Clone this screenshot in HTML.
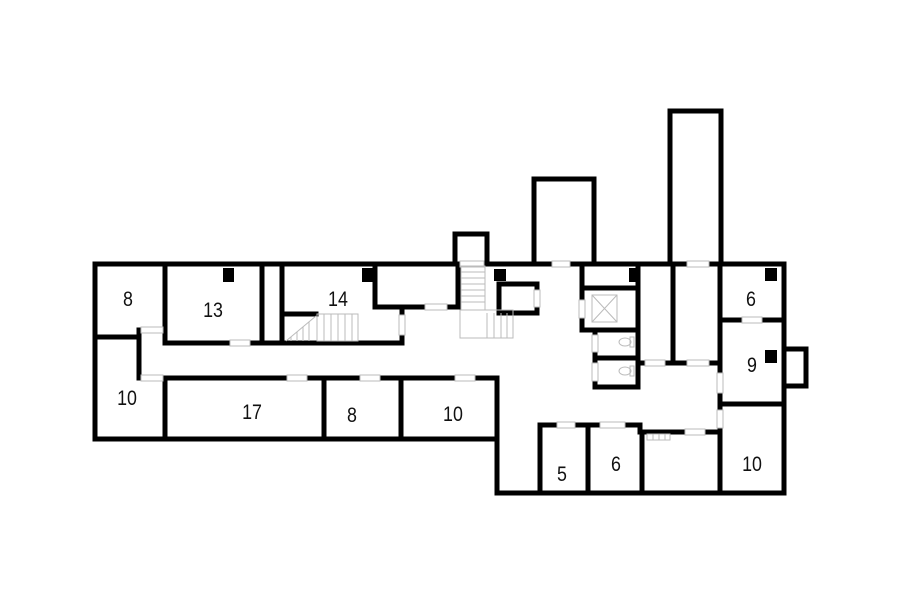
<!DOCTYPE html>
<html><head><meta charset="utf-8"><style>html,body{margin:0;padding:0;background:#fff}svg{display:block}text{font-family:"Liberation Sans",sans-serif;font-size:21px;fill:#111;text-anchor:middle}</style></head><body>
<svg width="900" height="604" viewBox="0 0 900 604" xmlns="http://www.w3.org/2000/svg">
<g stroke="#000" stroke-width="5" fill="none" stroke-linecap="square">
<polyline points="95,264 458,264"/>
<polyline points="487,264 784,264 784,493 497,493 497,439 95,439 95,264"/>
<line x1="497" y1="378" x2="497" y2="439"/>
<polyline points="455,264 455,234 487,234 487,264"/>
<polyline points="534,264 534,179 594,179 594,264"/>
<polyline points="670,264 670,111 721,111 721,264"/>
<polyline points="786,349 806,349 806,386 786,386"/>
<line x1="165" y1="264" x2="165" y2="343"/>
<line x1="95" y1="337" x2="139" y2="337"/>
<line x1="139" y1="330" x2="139" y2="378"/>
<line x1="165" y1="343" x2="402" y2="343"/>
<line x1="262" y1="264" x2="262" y2="343"/>
<line x1="282" y1="264" x2="282" y2="343"/>
<line x1="282" y1="314" x2="316" y2="314"/>
<polyline points="375,264 375,307 458,307 458,264"/>
<line x1="402" y1="307" x2="402" y2="343"/>
<line x1="165" y1="378" x2="497" y2="378"/>
<line x1="165" y1="378" x2="165" y2="439"/>
<line x1="324" y1="378" x2="324" y2="439"/>
<line x1="401" y1="378" x2="401" y2="439"/>
<line x1="458" y1="264" x2="458" y2="306"/>
<polyline points="499,284 537,284 537,313 499,313 499,284"/>
<polyline points="582,264 582,330 638,330"/>
<line x1="582" y1="288" x2="638" y2="288"/>
<line x1="638" y1="264" x2="638" y2="387"/>
<line x1="595" y1="330" x2="595" y2="387"/>
<line x1="595" y1="358" x2="638" y2="358"/>
<line x1="595" y1="387" x2="638" y2="387"/>
<line x1="673" y1="264" x2="673" y2="363"/>
<line x1="638" y1="363" x2="720" y2="363"/>
<line x1="720" y1="264" x2="720" y2="493"/>
<line x1="720" y1="320" x2="784" y2="320"/>
<line x1="720" y1="404" x2="784" y2="404"/>
<polyline points="540,493 540,425 640,425"/>
<line x1="588" y1="425" x2="588" y2="493"/>
<polyline points="642,493 642,432 720,432"/>
<line x1="640" y1="425" x2="640" y2="432"/>
</g>
<g fill="#000">
<rect x="223" y="268" width="11" height="14"/>
<rect x="362" y="268" width="12" height="14"/>
<rect x="494" y="269" width="12" height="12"/>
<rect x="629" y="268" width="11" height="14"/>
<rect x="765" y="268" width="12" height="13"/>
<rect x="765" y="350" width="12" height="13"/>
</g>
<g fill="#fff" stroke="#bbb" stroke-width="1">
<rect x="141" y="327" width="22" height="6"/>
<rect x="141" y="375" width="22" height="6"/>
<rect x="230" y="340" width="20" height="6"/>
<rect x="425" y="304" width="22" height="6"/>
<rect x="399" y="315" width="6" height="20"/>
<rect x="287" y="375" width="20" height="6"/>
<rect x="360" y="375" width="20" height="6"/>
<rect x="455" y="375" width="20" height="6"/>
<rect x="460" y="261" width="24" height="6"/>
<rect x="552" y="261" width="18" height="6"/>
<rect x="534" y="290" width="6" height="17"/>
<rect x="579" y="300" width="6" height="18"/>
<rect x="592" y="335" width="6" height="17"/>
<rect x="592" y="363" width="6" height="18"/>
<rect x="687" y="261" width="22" height="6"/>
<rect x="645" y="360" width="20" height="6"/>
<rect x="687" y="360" width="22" height="6"/>
<rect x="717" y="373" width="6" height="20"/>
<rect x="717" y="410" width="6" height="18"/>
<rect x="742" y="317" width="20" height="6"/>
<rect x="557" y="422" width="18" height="6"/>
<rect x="600" y="422" width="25" height="6"/>
<rect x="685" y="429" width="20" height="6"/>
</g>
<g stroke="#bbb" stroke-width="1" fill="none">
<rect x="317" y="314" width="41" height="27"/>
<path d="M324 314v27M331 314v27M338 314v27M345 314v27M352 314v27"/>
<line x1="286" y1="341" x2="316" y2="316"/>
<path d="M291 337v4M297 332v9M303 327v14M309 322v19"/>
<rect x="461" y="266" width="24" height="44"/>
<path d="M461 272h24M461 278h24M461 284h24M461 290h24M461 296h24M461 302h24"/>
<rect x="460" y="310" width="53" height="28"/>
<path d="M487 313v25M494 313v25M501 313v25M507 313v25"/>
<rect x="592" y="295" width="25" height="27"/>
<path d="M592 295l25 27M617 295l-25 27"/>
<ellipse cx="625" cy="342" rx="6" ry="4"/><rect x="630" y="337" width="4" height="10"/>
<ellipse cx="625" cy="371" rx="6" ry="4"/><rect x="630" y="366" width="4" height="10"/>
<path d="M647 434h23v6h-23zM653 434v6M659 434v6M665 434v6"/>
</g>
<g transform="scale(0.85,1)">
<text x="150.6" y="306">8</text>
<text x="250.6" y="317">13</text>
<text x="397.6" y="306">14</text>
<text x="883.5" y="306">6</text>
<text x="884.7" y="372">9</text>
<text x="149.4" y="405">10</text>
<text x="296.5" y="419">17</text>
<text x="414.1" y="422">8</text>
<text x="532.9" y="421">10</text>
<text x="661.2" y="481">5</text>
<text x="724.7" y="471">6</text>
<text x="884.7" y="471">10</text>
</g>
</svg>
</body></html>
